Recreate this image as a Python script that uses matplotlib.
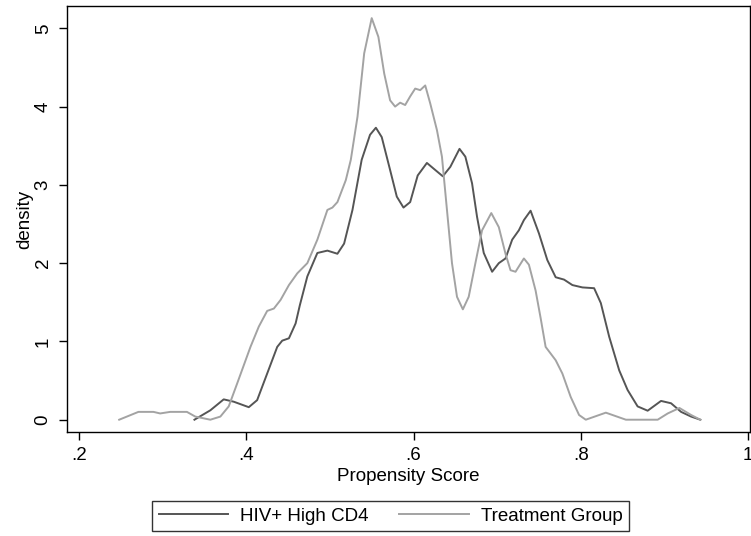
import matplotlib
matplotlib.use("Agg")
import matplotlib.pyplot as plt

plt.rcParams['font.family'] = ['Liberation Sans', 'DejaVu Sans']

# HIV+ High CD4 density (dark line)
hiv_x = [0.338, 0.357, 0.373, 0.385, 0.403, 0.413, 0.425, 0.437, 0.443, 0.451,
         0.459, 0.464, 0.473, 0.485, 0.497, 0.509, 0.517, 0.527, 0.538, 0.548,
         0.555, 0.562, 0.572, 0.580, 0.588, 0.596, 0.605, 0.616, 0.626, 0.635,
         0.644, 0.655, 0.662, 0.670, 0.676, 0.684, 0.694, 0.702, 0.710, 0.718,
         0.726, 0.732, 0.740, 0.750, 0.760, 0.770, 0.780, 0.790, 0.802, 0.816,
         0.824, 0.834, 0.846, 0.856, 0.868, 0.880, 0.896, 0.908, 0.920, 0.932,
         0.943]
hiv_y = [0.00, 0.12, 0.26, 0.23, 0.16, 0.25, 0.59, 0.93, 1.01, 1.04,
         1.23, 1.46, 1.83, 2.13, 2.16, 2.12, 2.25, 2.68, 3.32, 3.64,
         3.73, 3.61, 3.19, 2.85, 2.71, 2.78, 3.12, 3.28, 3.19, 3.11,
         3.23, 3.46, 3.36, 3.02, 2.59, 2.13, 1.89, 2.00, 2.06, 2.30,
         2.42, 2.55, 2.67, 2.38, 2.04, 1.82, 1.79, 1.72, 1.69, 1.68,
         1.49, 1.06, 0.63, 0.38, 0.17, 0.115, 0.24, 0.21, 0.10, 0.04,
         0.00]

# Treatment Group density (light line)
trt_x = [0.248, 0.271, 0.289, 0.297, 0.309, 0.329, 0.339, 0.357, 0.369, 0.379,
         0.389, 0.405, 0.415, 0.425, 0.433, 0.441, 0.451, 0.461, 0.473, 0.485,
         0.497, 0.503, 0.509, 0.519, 0.525, 0.533, 0.541, 0.550, 0.558, 0.565,
         0.572, 0.578, 0.584, 0.590, 0.596, 0.602, 0.608, 0.614, 0.620, 0.628,
         0.634, 0.640, 0.646, 0.652, 0.659, 0.666, 0.674, 0.682, 0.693, 0.702,
         0.710, 0.716, 0.722, 0.732, 0.738, 0.746, 0.752, 0.758, 0.770, 0.778,
         0.788, 0.798, 0.806, 0.830, 0.854, 0.892, 0.904, 0.918, 0.932, 0.943]
trt_y = [0.00, 0.10, 0.10, 0.08, 0.10, 0.10, 0.04, 0.00, 0.04, 0.17,
         0.46, 0.93, 1.19, 1.39, 1.42, 1.53, 1.72, 1.87, 2.00, 2.30,
         2.68, 2.71, 2.78, 3.06, 3.32, 3.87, 4.68, 5.13, 4.89, 4.42,
         4.08, 4.00, 4.05, 4.02, 4.13, 4.23, 4.21, 4.27, 4.04, 3.70,
         3.36, 2.68, 2.00, 1.57, 1.41, 1.57, 2.00, 2.42, 2.64, 2.46,
         2.12, 1.91, 1.89, 2.06, 1.98, 1.65, 1.30, 0.93, 0.76, 0.59,
         0.29, 0.06, 0.00, 0.09, 0.00, 0.00, 0.08, 0.15, 0.06, 0.00]

xticks = [0.2, 0.4, 0.6, 0.8, 1.0]
xticklabels = ['.2', '.4', '.6', '.8', '1']
yticks = [0, 1, 2, 3, 4, 5]

fs = 13.5

fig = plt.figure(figsize=(7.51, 5.36), dpi=100)
ax = fig.add_axes([67 / 751, 1 - 432 / 536, (750 - 67) / 751, (432 - 6) / 536])

ax.plot(hiv_x, hiv_y, color='#555555', lw=1.4, solid_joinstyle='round',
        label='HIV+ High CD4')
ax.plot(trt_x, trt_y, color='#a3a3a3', lw=1.4, solid_joinstyle='round',
        label='Treatment Group')

ax.set_xlim(0.1856, 1.0024)
ax.set_ylim(-0.157, 5.285)
ax.set_xticks(xticks)
ax.set_xticklabels(xticklabels)
ax.set_yticks(yticks)
ax.set_yticklabels([str(v) for v in yticks], rotation=90, va='center')
ax.tick_params(labelsize=fs, length=6, width=1, colors='black')
ax.tick_params(axis='x', pad=5)
ax.tick_params(axis='y', pad=5)
for s in ax.spines.values():
    s.set_linewidth(1.0)

ax.set_xlabel('Propensity Score', fontsize=fs, labelpad=3)
ax.set_ylabel('density', fontsize=fs, labelpad=1)

leg = fig.legend(loc='center', bbox_to_anchor=(390.5 / 751, 1 - 516 / 536), ncol=2,
                 fontsize=fs, frameon=True, fancybox=False, edgecolor='black',
                 handlelength=3.7, columnspacing=1.65, borderpad=0.35,
                 handletextpad=0.64, borderaxespad=0)
leg.get_frame().set_linewidth(1.0)

fig.savefig('out.png', dpi=100)
